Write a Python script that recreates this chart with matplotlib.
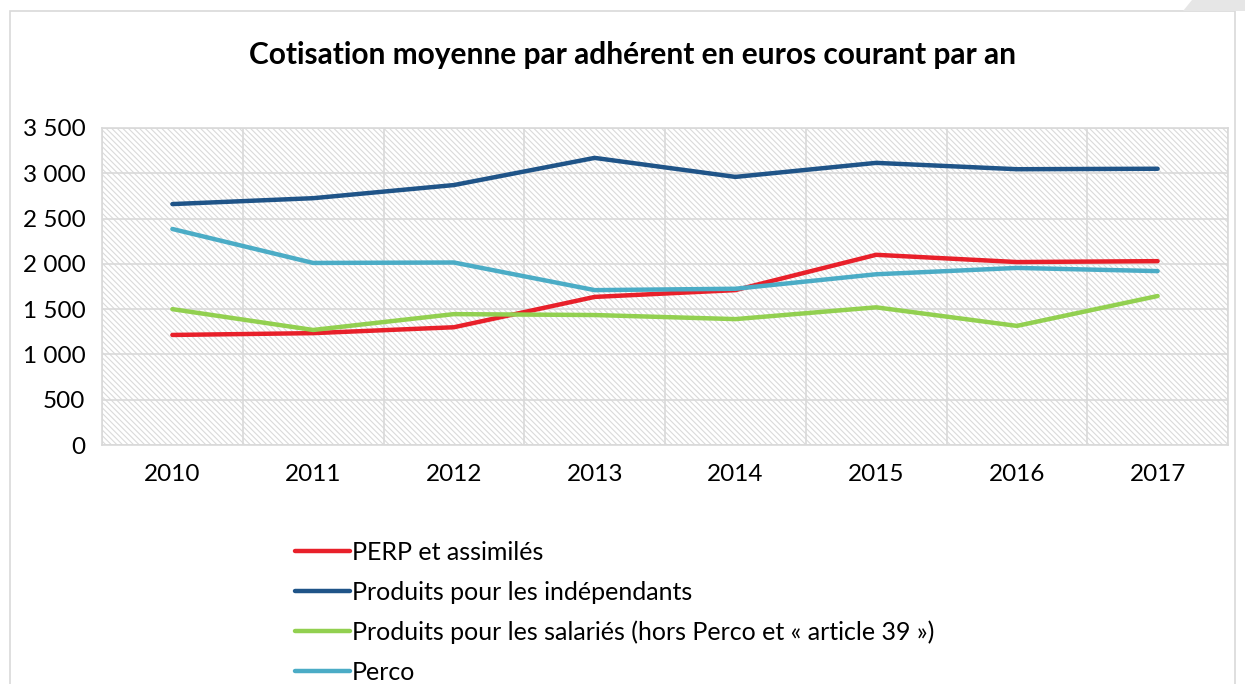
import numpy as np
import matplotlib.pyplot as plt
from matplotlib.patches import Rectangle, Polygon

plt.rcParams['font.family'] = ['Lato', 'DejaVu Sans']
plt.rcParams['hatch.color'] = '#dadada'
plt.rcParams['hatch.linewidth'] = 0.8

years = ['2010', '2011', '2012', '2013', '2014', '2015', '2016', '2017']
perp = [1215, 1235, 1300, 1635, 1710, 2100, 2020, 2030]
independants = [2660, 2725, 2870, 3170, 2960, 3115, 3045, 3050]
salaries = [1500, 1270, 1445, 1435, 1390, 1520, 1315, 1645]
perco = [2385, 2010, 2015, 1710, 1725, 1885, 1955, 1920]

names = ['PERP et assimilés', 'Produits pour les indépendants',
         'Produits pour les salariés (hors Perco et « article 39 »)', 'Perco']
colors = ['#e8202a', '#1f5488', '#92d050', '#4bacc6']

fig = plt.figure(figsize=(12.45, 6.84), dpi=100)
ax = fig.add_axes([102/1245, 1 - 445/684, (1228-102)/1245, (445-128)/684])

# hatched background of the plot area
ax.add_patch(Rectangle((0, 0), 1, 1, transform=ax.transAxes, facecolor='white',
                       edgecolor='#dadada', hatch='\\\\\\\\\\\\', lw=0, zorder=0))

x = np.arange(len(years))
for vals, c, n in zip([perp, independants, salaries, perco], colors, names):
    ax.plot(x, vals, color=c, lw=3.2, label=n, solid_capstyle='round', zorder=3)

ax.set_xlim(-0.5, len(years) - 0.5)
ax.set_ylim(0, 3500)
ax.set_yticks(np.arange(0, 3501, 500))
ax.set_yticklabels([f'{v:,}'.replace(',', ' ') for v in range(0, 3501, 500)])
ax.set_xticks(x)
ax.set_xticklabels(years)
ax.set_xticks(np.arange(-0.5, len(years), 1), minor=True)
ax.grid(True, which='minor', axis='x', color='#d9d9d9', lw=1.2)
ax.grid(True, which='major', axis='y', color='#d9d9d9', lw=1.2)
ax.tick_params(which='both', length=0, labelsize=17.5, colors='black')
ax.tick_params(axis='x', pad=14)
ax.tick_params(axis='y', pad=12)
for s in ax.spines.values():
    s.set_color('#d9d9d9')
    s.set_linewidth(1.2)
ax.set_axisbelow(True)

fig.text(632/1245, 1 - 55/684, 'Cotisation moyenne par adhérent en euros courant par an',
         ha='center', va='center', fontsize=21.5, fontweight='bold')

fig.legend(loc='upper left', bbox_to_anchor=(287/1245, 1 - 533/684), frameon=False,
           fontsize=18, handlelength=2.2, handletextpad=0.1, labelspacing=0.68,
           borderaxespad=0, borderpad=0.3)

# outer chart frame and corner shading
fig.patches.append(Rectangle((10/1245, -0.1), (1235-10)/1245, 1.1 - 11/684,
                             transform=fig.transFigure, fill=False, edgecolor='#d9d9d9', lw=1.2))
fig.patches.append(Polygon([(1183/1245, 1 - 11/684), (1192/1245, 1), (1, 1), (1, 1 - 11/684)],
                           closed=True, transform=fig.transFigure, facecolor='#e6e6e6', edgecolor='none'))

fig.savefig('out.png', dpi=100)
